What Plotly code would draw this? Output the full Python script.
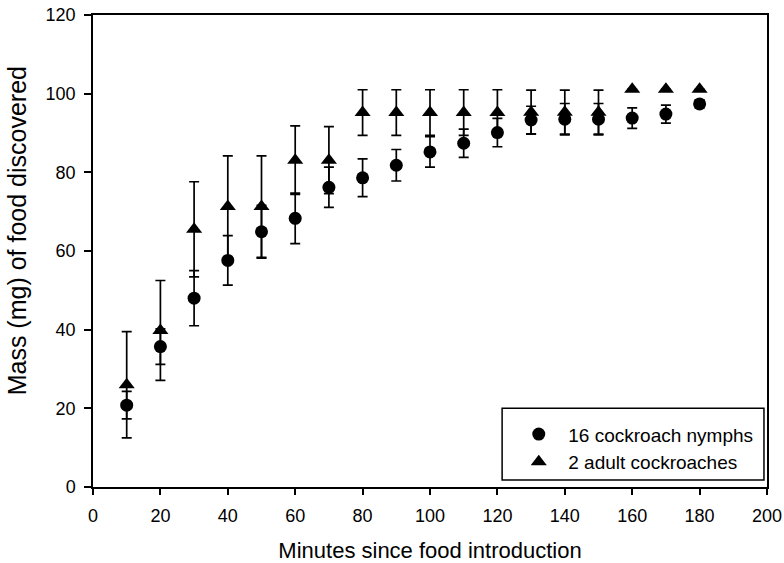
import plotly.graph_objects as go

minutes = [10, 20, 30, 40, 50, 60, 70, 80, 90, 100, 110, 120, 130, 140, 150, 160, 170, 180]

nymph_mass = [20.8, 35.7, 48.0, 57.6, 64.9, 68.3, 76.2, 78.6, 81.8, 85.2, 87.4, 90.1, 93.3, 93.5, 93.5, 93.8, 94.8, 97.4]
nymph_se = [3.5, 4.5, 7.0, 6.3, 6.7, 6.4, 5.1, 4.8, 4.0, 3.9, 3.6, 3.6, 3.5, 4.0, 4.0, 2.6, 2.3, 1.0]

adult_mass = [26.0, 39.8, 65.5, 71.3, 71.3, 83.1, 83.1, 95.2, 95.2, 95.2, 95.2, 95.2, 95.3, 95.3, 95.3, 101.1, 101.1, 101.1]
adult_se = [13.5, 12.7, 12.1, 12.9, 12.9, 8.7, 8.5, 5.8, 5.8, 5.8, 5.8, 5.8, 5.6, 5.6, 5.6, 0.0, 0.0, 0.0]

x_ticks = [0, 20, 40, 60, 80, 100, 120, 140, 160, 180, 200]
y_ticks = [0, 20, 40, 60, 80, 100, 120]

fig = go.Figure()
fig.add_trace(go.Scatter(
    x=minutes, y=nymph_mass, mode="markers", name="16 cockroach nymphs",
    marker=dict(symbol="circle", size=13, color="black"),
    error_y=dict(type="data", array=nymph_se, visible=True, color="black", thickness=1.7, width=5),
))
fig.add_trace(go.Scatter(
    x=minutes, y=adult_mass, mode="markers", name="2 adult cockroaches",
    marker=dict(symbol="triangle-up", size=14, color="black"),
    error_y=dict(type="data", array=adult_se, visible=True, color="black", thickness=1.7, width=5),
))

font_family = "Liberation Sans, Arial, sans-serif"
fig.update_layout(
    width=784, height=563,
    margin=dict(l=93, r=17, t=15, b=76, autoexpand=False),
    paper_bgcolor="white", plot_bgcolor="white",
    font=dict(family=font_family, size=18, color="black"),
    showlegend=True,
    legend=dict(
        x=0.6176, y=0.152, xanchor="left", yanchor="top",
        borderwidth=0, bgcolor="rgba(0,0,0,0)",
        font=dict(size=19, family=font_family),
        itemwidth=49, tracegroupgap=0,
    ),
    shapes=[dict(
        type="rect", xref="paper", yref="paper",
        x0=0.607, x1=0.9955, y0=0.0148, y1=0.167,
        line=dict(color="black", width=1.5), fillcolor="rgba(0,0,0,0)", layer="below",
    )],
    annotations=[dict(
        text="Mass (mg) of food discovered", xref="paper", yref="paper",
        x=-0.1125, y=0.542, xanchor="center", yanchor="middle",
        textangle=-90, showarrow=False, font=dict(size=25),
    )],
    xaxis=dict(
        range=[0, 200], tickvals=x_ticks, ticks="outside", ticklen=6, tickwidth=1.5,
        tickcolor="black", showline=True, linecolor="black", linewidth=1.5, mirror=True,
        showgrid=False, zeroline=False, automargin=False, ticklabelstandoff=6,
        title=dict(text="Minutes since food introduction", font=dict(size=22), standoff=19),
        tickfont=dict(size=18),
    ),
    yaxis=dict(
        range=[0, 120], tickvals=y_ticks, ticks="outside", ticklen=7, tickwidth=1.5,
        tickcolor="black", showline=True, linecolor="black", linewidth=1.5, mirror=True,
        showgrid=False, zeroline=False, automargin=False, ticklabelstandoff=5,
        tickfont=dict(size=18),
    ),
)

fig.write_html("out.html")
